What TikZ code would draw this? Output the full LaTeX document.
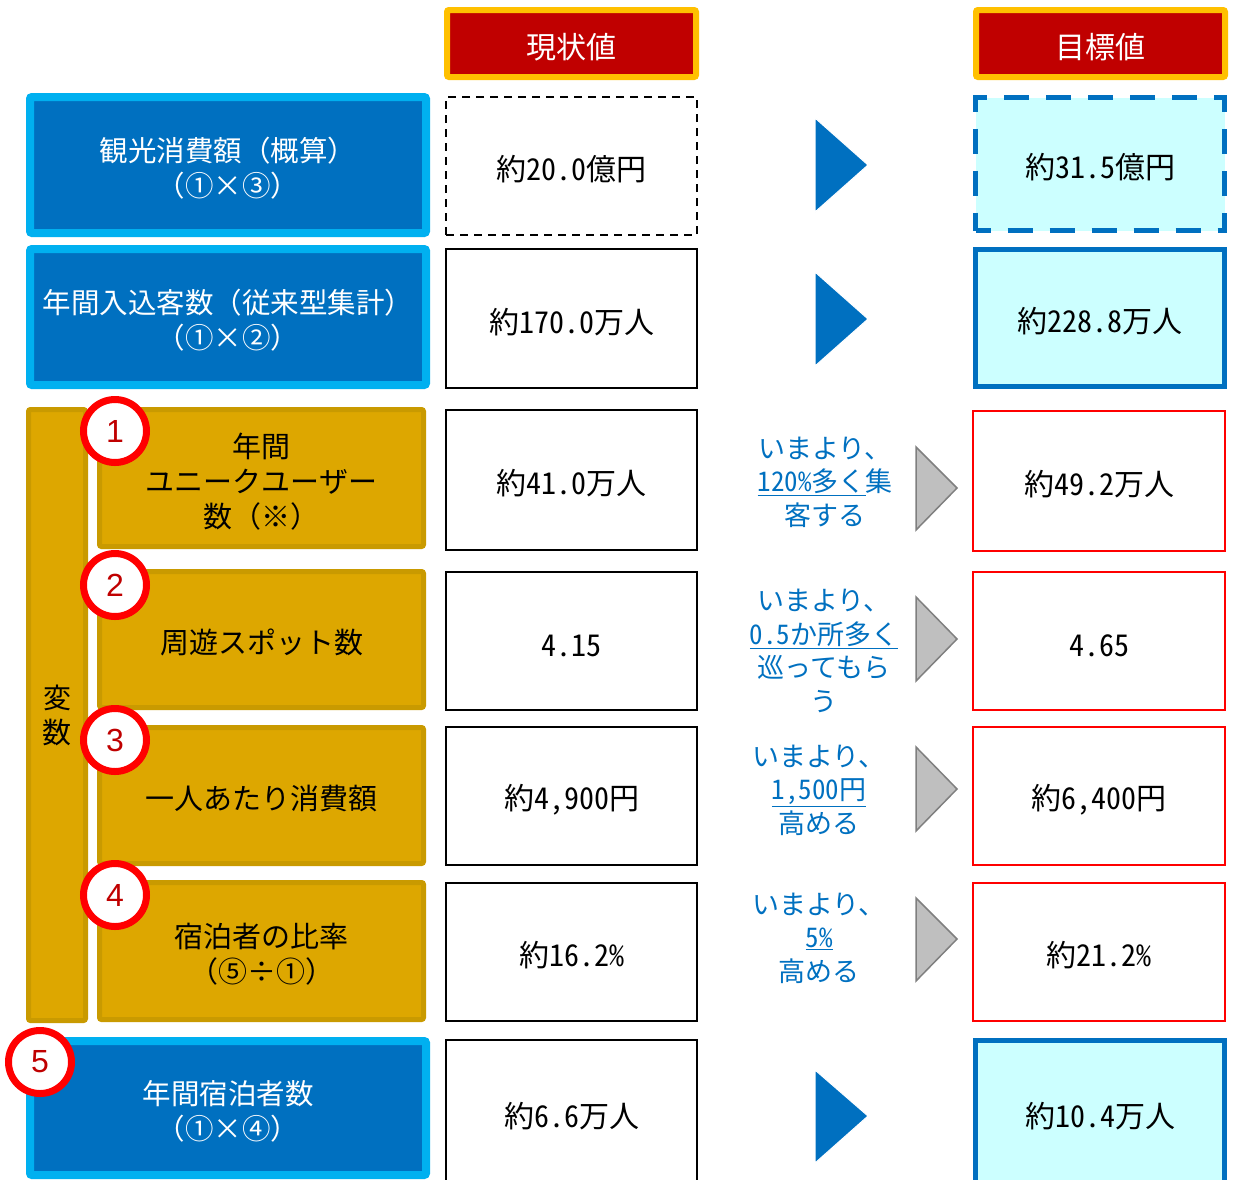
\documentclass[tikz,border=0pt]{standalone}
\usepackage{fontspec}
\setmainfont{Noto Sans CJK JP}
\newfontfamily\hw{Noto Sans CJK JP}[RawFeature=+hwid]
\newfontfamily\numfont{Liberation Sans}
\usetikzlibrary{shapes.geometric}
\definecolor{dblue}{HTML}{0070C0}
\definecolor{lblue}{HTML}{00B0F0}
\definecolor{cyanf}{HTML}{CCFFFF}
\definecolor{hgold}{HTML}{FFC000}
\definecolor{hred}{HTML}{C00000}
\definecolor{goldf}{HTML}{DDA700}
\definecolor{goldb}{HTML}{C99A00}
\definecolor{numred}{HTML}{C00000}
\definecolor{tgray}{HTML}{BFBFBF}
\definecolor{tgrayb}{HTML}{7F7F7F}
\newcommand\tp{\rule{0pt}{1.07em}}
\begin{document}
\begin{tikzpicture}[x=1pt,y=-1pt,
  hdr/.style={draw=hgold, line width=6pt, fill=hred, text=white, font=\fontsize{30}{36}\selectfont, minimum width=249pt, minimum height=67pt, inner sep=0pt, rounded corners=2pt},
  bluebox/.style={draw=lblue, line width=8pt, fill=dblue, text=white, font=\fontsize{28.5}{35}\selectfont, align=center, minimum width=396pt, inner sep=0pt, rounded corners=2pt},
  curbox/.style={draw=black, line width=2pt, fill=white, font=\hw\fontsize{30}{35}\selectfont, minimum width=251pt, inner sep=0pt},
  redbox/.style={draw=red, line width=2pt, fill=white, font=\hw\fontsize{30}{35}\selectfont, minimum width=252pt, inner sep=0pt},
  tgtbox/.style={draw=dblue, line width=5pt, fill=cyanf, font=\hw\fontsize{30}{35}\selectfont, minimum width=249pt, inner sep=0pt},
  goldbox/.style={draw=goldb, line width=5pt, fill=goldf, font=\fontsize{29}{35}\selectfont, align=center, minimum width=324pt, inner sep=0pt, rounded corners=2pt},
  numc/.style={circle, draw=red, line width=7pt, fill=white, minimum size=63pt, inner sep=0pt, text=numred, font=\numfont\fontsize{32}{32}\selectfont},
  note/.style={text=dblue, align=center, font=\hw\fontsize{27}{33.5}\selectfont, inner sep=0pt},
  bluetri/.style={fill=dblue, draw=white, line width=1pt},
  graytri/.style={fill=tgray, draw=tgrayb, line width=1.5pt, line join=miter}
]
\useasboundingbox (0,0) rectangle (1233,1179);
\clip (0,0) rectangle (1233,1179);

% headers
\node[hdr] (h1) at (571.5,43.5) {\tp 現状値};
\node[hdr] (h2) at (1100.5,43.5) {\tp 目標値};

% left blue boxes
\node[bluebox, minimum height=136pt] (b1) at (228,165) {\tp 観光消費額（概算）\\（①×③）};
\node[bluebox, minimum height=136pt] (b2) at (228,317) {\tp 年間入込客数（従来型集計）\\（①×②）};
\node[bluebox, minimum height=134pt] (b5) at (228,1108) {\tp 年間宿泊者数\\（①×④）};

% variables
\node[goldbox, minimum width=57pt, minimum height=611pt] (var) at (57,715) {\fontsize{28}{30}\selectfont 変\\数};
\node[goldbox, minimum height=137pt] (g1) at (261.5,478) {\tp 年間\\ユニークユーザー\\数（※）};
\node[goldbox, minimum height=136pt] (g2) at (261.5,639.5) {\tp 周遊スポット数};
\node[goldbox, minimum height=136pt] (g3) at (261.5,795.5) {\tp 一人あたり消費額};
\node[goldbox, minimum height=137pt] (g4) at (261.5,951) {\tp 宿泊者の比率\\（⑤÷①）};

% number circles
\node[numc] (c1) at (115,431) {1};
\node[numc] (c2) at (115,585) {2};
\node[numc] (c3) at (115,740) {3};
\node[numc] (c4) at (115,895) {4};
\node[numc] (c5) at (40,1062) {5};

% current values
\node[curbox, minimum height=138pt, dashed, dash pattern=on 8pt off 6pt] (v1) at (571.5,166) {\tp 約20.0億円};
\node[curbox, minimum height=139pt] (v2) at (571.5,318.5) {\tp 約170.0万人};
\node[curbox, minimum height=140pt] (v3) at (571.5,480) {\tp 約41.0万人};
\node[curbox, minimum height=138pt] (v4) at (571.5,641) {\tp 4.15};
\node[curbox, minimum height=138pt] (v5) at (571.5,796) {\tp 約4,900円};
\node[curbox, minimum height=138pt] (v6) at (571.5,952) {\tp 約16.2\%};
\node[curbox, minimum height=146pt] (v7) at (571.5,1113) {\tp 約6.6万人};

% target values
\node[tgtbox, minimum height=133pt, dash pattern=on 25pt off 17pt, dash phase=10pt] (t1) at (1100,164) {\tp 約31.5億円};
\node[tgtbox, minimum height=137pt] (t2) at (1100,318) {\tp 約228.8万人};
\node[redbox, minimum height=140pt] (t3) at (1099,480.5) {\tp 約49.2万人};
\node[redbox, minimum height=138pt] (t4) at (1099,641) {\tp 4.65};
\node[redbox, minimum height=138pt] (t5) at (1099,796) {\tp 約6,400円};
\node[redbox, minimum height=138pt] (t6) at (1099,952) {\tp 約21.2\%};
\node[tgtbox, minimum height=145pt] (t7) at (1100,1113) {\tp 約10.4万人};

% blue triangles
\draw[bluetri] (815,118) -- (868,165) -- (815,212) -- cycle;
\draw[bluetri] (815,272) -- (868,319) -- (815,366) -- cycle;
\draw[bluetri] (815,1070) -- (868,1116) -- (815,1163) -- cycle;

% gray triangles
\draw[graytri] (916,447) -- (957,488) -- (916,530) -- cycle;
\draw[graytri] (916,597) -- (957,639) -- (916,681) -- cycle;
\draw[graytri] (916,747) -- (957,789) -- (916,831) -- cycle;
\draw[graytri] (916,898) -- (957,939) -- (916,981) -- cycle;

% notes
\node[note] (n1) at (825,482) {いまより、\\\underline{120\%多く}集\\客する};
\node[note] (n2) at (824,651) {いまより、\\\underline{0.5か所多く}\\巡ってもら\\う};
\node[note] (n3) at (819,790) {いまより、\\\underline{1,500円}\\高める};
\node[note] (n4) at (819,938) {いまより、\\\underline{5\%}\\高める};
\end{tikzpicture}
\end{document}
